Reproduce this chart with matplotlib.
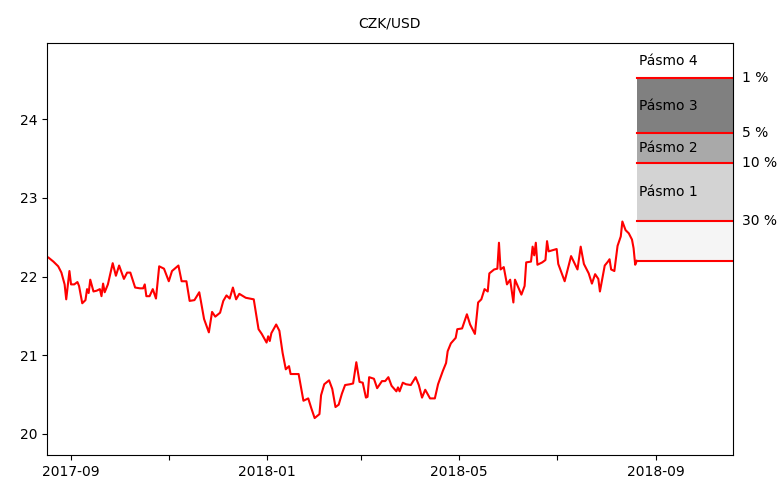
import numpy as np
import pandas as pd
import matplotlib
matplotlib.use('Agg')
import matplotlib.pyplot as plt
import matplotlib.transforms as mtransforms

# kurz CZK/USD
dates = ['2017-08-18', '2017-08-21', '2017-08-24', '2017-08-26', '2017-08-28', '2017-08-29',
         '2017-08-31', '2017-09-01', '2017-09-03', '2017-09-05', '2017-09-06', '2017-09-08',
         '2017-09-10', '2017-09-11', '2017-09-12', '2017-09-13', '2017-09-15', '2017-09-17',
         '2017-09-19', '2017-09-20', '2017-09-21', '2017-09-22', '2017-09-24', '2017-09-27',
         '2017-09-29', '2017-10-01', '2017-10-04', '2017-10-06', '2017-10-08', '2017-10-11',
         '2017-10-14', '2017-10-16', '2017-10-17', '2017-10-18', '2017-10-20', '2017-10-22',
         '2017-10-24', '2017-10-26', '2017-10-29', '2017-11-01', '2017-11-03', '2017-11-07',
         '2017-11-09', '2017-11-12', '2017-11-14', '2017-11-17', '2017-11-20', '2017-11-21',
         '2017-11-23', '2017-11-26', '2017-11-28', '2017-11-30', '2017-12-03', '2017-12-05',
         '2017-12-07', '2017-12-09', '2017-12-11', '2017-12-13', '2017-12-15', '2017-12-19',
         '2017-12-24', '2017-12-27', '2017-12-29', '2018-01-01', '2018-01-02', '2018-01-03',
         '2018-01-04', '2018-01-07', '2018-01-09', '2018-01-11', '2018-01-13', '2018-01-15',
         '2018-01-16', '2018-01-21', '2018-01-23', '2018-01-24', '2018-01-27', '2018-01-29',
         '2018-01-31', '2018-02-03', '2018-02-04', '2018-02-06', '2018-02-09', '2018-02-11',
         '2018-02-13', '2018-02-15', '2018-02-17', '2018-02-19', '2018-02-22', '2018-02-24',
         '2018-02-26', '2018-02-28', '2018-03-02', '2018-03-04', '2018-03-05', '2018-03-06',
         '2018-03-09', '2018-03-11', '2018-03-14', '2018-03-16', '2018-03-18', '2018-03-20',
         '2018-03-23', '2018-03-24', '2018-03-25', '2018-03-27', '2018-03-29', '2018-04-01',
         '2018-04-04', '2018-04-06', '2018-04-08', '2018-04-10', '2018-04-13', '2018-04-16',
         '2018-04-18', '2018-04-21', '2018-04-23', '2018-04-24', '2018-04-26', '2018-04-29',
         '2018-04-30', '2018-05-03', '2018-05-06', '2018-05-08', '2018-05-11', '2018-05-13',
         '2018-05-15', '2018-05-17', '2018-05-19', '2018-05-20', '2018-05-23', '2018-05-25',
         '2018-05-26', '2018-05-27', '2018-05-29', '2018-05-31', '2018-06-02', '2018-06-04',
         '2018-06-05', '2018-06-09', '2018-06-11', '2018-06-12', '2018-06-15', '2018-06-16',
         '2018-06-17', '2018-06-18', '2018-06-19', '2018-06-22', '2018-06-24', '2018-06-25',
         '2018-06-26', '2018-07-01', '2018-07-02', '2018-07-06', '2018-07-08', '2018-07-10',
         '2018-07-14', '2018-07-16', '2018-07-18', '2018-07-21', '2018-07-23', '2018-07-25',
         '2018-07-27', '2018-07-28', '2018-07-31', '2018-08-02', '2018-08-03', '2018-08-04',
         '2018-08-06', '2018-08-08', '2018-08-10', '2018-08-11', '2018-08-13', '2018-08-15',
         '2018-08-17', '2018-08-18', '2018-08-19', '2018-08-20']
rates = [22.24, 22.19, 22.13, 22.05, 21.90, 21.71,
         22.07, 21.90, 21.90, 21.93, 21.88, 21.66,
         21.70, 21.84, 21.79, 21.96, 21.81, 21.82,
         21.84, 21.75, 21.91, 21.80, 21.90, 22.17,
         22.01, 22.14, 21.97, 22.05, 22.05, 21.86,
         21.85, 21.85, 21.90, 21.75, 21.75, 21.84,
         21.72, 22.13, 22.10, 21.94, 22.07, 22.14,
         21.94, 21.94, 21.69, 21.70, 21.80, 21.69,
         21.46, 21.29, 21.55, 21.49, 21.54, 21.69,
         21.76, 21.72, 21.86, 21.71, 21.78, 21.73,
         21.71, 21.33, 21.27, 21.16, 21.24, 21.18,
         21.28, 21.39, 21.31, 21.03, 20.82, 20.86,
         20.76, 20.76, 20.53, 20.42, 20.45, 20.32,
         20.20, 20.25, 20.49, 20.63, 20.68, 20.57,
         20.34, 20.37, 20.51, 20.62, 20.63, 20.64,
         20.91, 20.66, 20.65, 20.46, 20.47, 20.72,
         20.70, 20.58, 20.67, 20.67, 20.72, 20.61,
         20.54, 20.59, 20.54, 20.65, 20.63, 20.62,
         20.72, 20.62, 20.46, 20.56, 20.45, 20.45,
         20.63, 20.80, 20.90, 21.05, 21.15, 21.22,
         21.33, 21.34, 21.52, 21.39, 21.27, 21.67,
         21.71, 21.84, 21.81, 22.04, 22.09, 22.10,
         22.43, 22.09, 22.12, 21.90, 21.96, 21.67,
         21.96, 21.77, 21.88, 22.18, 22.19, 22.38,
         22.27, 22.43, 22.15, 22.18, 22.21, 22.45,
         22.32, 22.35, 22.16, 21.94, 22.10, 22.26,
         22.09, 22.38, 22.16, 22.04, 21.91, 22.03,
         21.97, 21.81, 22.14, 22.19, 22.22, 22.09,
         22.07, 22.39, 22.51, 22.70, 22.59, 22.55,
         22.47, 22.36, 22.15, 22.20]

# hranice pasem (kvantily)
band_levels = [24.52, 23.82, 23.45, 22.71]
band_pct = ['1 %', '5 %', '10 %', '30 %']
band_names = ['Pásmo 4', 'Pásmo 3', 'Pásmo 2', 'Pásmo 1']
band_colors = ['white', 'gray', 'darkgray', 'lightgray', 'whitesmoke']

x = pd.to_datetime(dates)
y = np.array(rates)
last = x[-1]
x_end = last + pd.Timedelta(days=60)
ymin, ymax = 19.73, 24.97

fig = plt.figure(figsize=(7.78, 4.84), dpi=100)
ax = fig.add_axes([0.0604, 0.0599, 0.8817, 0.8512])

edges = [ymax] + band_levels + [y[-1]]
for i in range(len(edges) - 1):
    ax.fill_between([last, x_end], edges[i + 1], edges[i], color=band_colors[i], lw=0)
for lev in band_levels + [y[-1]]:
    ax.plot([last, x_end], [lev, lev], color='red', lw=1.5)

for i, name in enumerate(band_names):
    ax.text(last + pd.Timedelta(days=1.5), (edges[i] + edges[i + 1]) / 2, name,
            va='center', ha='left', fontsize=10)

trans = mtransforms.blended_transform_factory(ax.transAxes, ax.transData)
for lev, lab in zip(band_levels, band_pct):
    ax.text(1.013, lev, lab, transform=trans, va='center', ha='left', fontsize=10)

ax.plot(x, y, color='red', lw=1.5)

ticks = pd.to_datetime(['2017-09-01', '2017-11-01', '2018-01-01', '2018-03-01',
                        '2018-05-01', '2018-07-01', '2018-09-01'])
tick_labels = ['2017-09', '', '2018-01', '', '2018-05', '', '2018-09']
ax.set_xticks(ticks)
ax.set_xticklabels(tick_labels)
ax.set_yticks([20, 21, 22, 23, 24])
ax.set_xlim(x[0] - pd.Timedelta(days=1), x_end)
ax.set_ylim(ymin, ymax)
ax.set_title('CZK/USD', fontsize=10, pad=11)

fig.savefig('out.png', dpi=100)
